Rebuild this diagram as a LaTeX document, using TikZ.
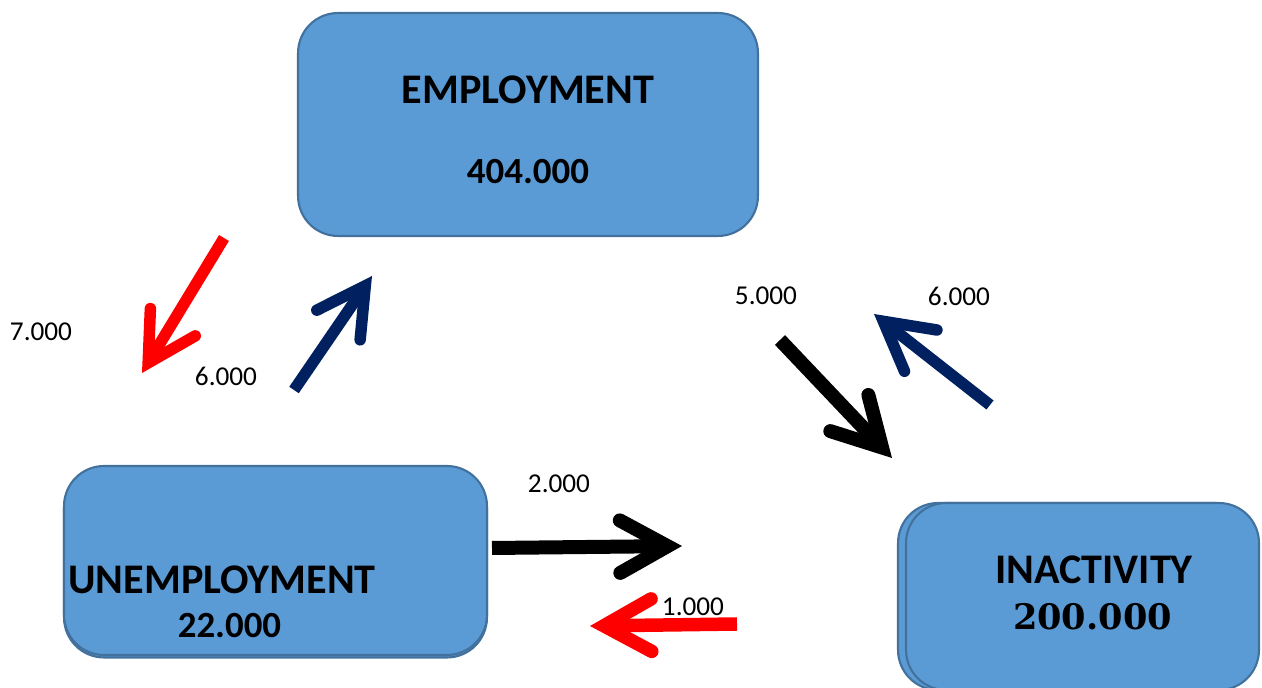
\documentclass[tikz,border=0pt]{standalone}
\usepackage{fontspec}
\setmainfont{Carlito}
\newfontfamily\numserif{DejaVu Serif}
\usetikzlibrary{arrows.meta,positioning}
\definecolor{boxblue}{HTML}{5B9BD5}
\definecolor{boxline}{HTML}{41719C}
\definecolor{navyflow}{HTML}{002060}
\tikzset{statebox/.style={draw=boxline, fill=boxblue, rectangle, rounded corners=0.8cm, line width=1.2pt, inner sep=0pt}}
\tikzset{title/.style={font=\fontsize{24}{28}\selectfont\bfseries, inner sep=0pt}}
\tikzset{count/.style={font=\fontsize{21}{25}\selectfont\bfseries, inner sep=0pt}}
\tikzset{flow/.style={line width=0.23cm, -{Straight Barb[length=0.95cm, width=1.05cm, line cap=round, line join=miter]}}}
\tikzset{flowlabel/.style={font=\fontsize{15.5}{18}\selectfont, inner sep=0pt}}
\begin{document}
\begin{tikzpicture}[x=0.02cm, y=-0.02cm]
		\useasboundingbox (0,0) rectangle (1262,688);
		
		% states
		\node [statebox, minimum width=9.2cm, minimum height=4.46cm] (employment) at (528,124.5) {};
		\node [title] (emptitle) at (528,90) {EMPLOYMENT};
		\node [count] (empcount) at (528,172) {404.000};
		
		\node [statebox, minimum width=8.46cm, minimum height=3.78cm] (unempback) at (275.5,563) {};
		\node [statebox, minimum width=8.46cm, minimum height=3.78cm] (unemployment) at (275.5,560.5) {};
		\node [title] (unemptitle) at (222,580) {UNEMPLOYMENT};
		\node [count] (unempcount) at (229.5,626) {22.000};
		
		\node [statebox, minimum width=7.14cm, minimum height=3.74cm] (inactback) at (1076.5,596.5) {};
		\node [statebox, minimum width=7.06cm, minimum height=3.74cm] (inactivity) at (1082.5,596.5) {};
		\node [title] (inacttitle) at (1094,570) {INACTIVITY};
		\node [count, font=\numserif\fontsize{20}{24}\selectfont\bfseries] (inactcount) at (1092.5,617) {200.000};
		
		% flow ends
		\coordinate (eu1) at (224,238);
		\coordinate (eu2) at (142,373);
		\coordinate (ue1) at (294,390);
		\coordinate (ue2) at (372,276);
		\coordinate (ei1) at (780,340);
		\coordinate (ei2) at (892,458);
		\coordinate (ie1) at (990,405);
		\coordinate (ie2) at (874,314);
		\coordinate (ui1) at (492,548);
		\coordinate (ui2) at (682,546);
		\coordinate (iu1) at (737,624);
		\coordinate (iu2) at (590,626);
		
		\draw [flow, red] (eu1) -- (eu2);
		\draw [flow, navyflow] (ue1) -- (ue2);
		\draw [flow, black, line width=0.28cm] (ei1) -- (ei2);
		\draw [flow, navyflow] (ie1) -- (ie2);
		\draw [flow, black, line width=0.28cm] (ui1) -- (ui2);
		\draw [flow, red, line width=0.27cm] (iu1) -- (iu2);
		
		% flow sizes
		\node [flowlabel] (eulabel) at (41,332) {7.000};
		\node [flowlabel] (uelabel) at (226,376) {6.000};
		\node [flowlabel] (eilabel) at (766,296) {5.000};
		\node [flowlabel] (ielabel) at (959,296) {6.000};
		\node [flowlabel] (uilabel) at (559,484) {2.000};
		\node [flowlabel] (iulabel) at (693,607) {1.000};
		
\end{tikzpicture}
\end{document}
